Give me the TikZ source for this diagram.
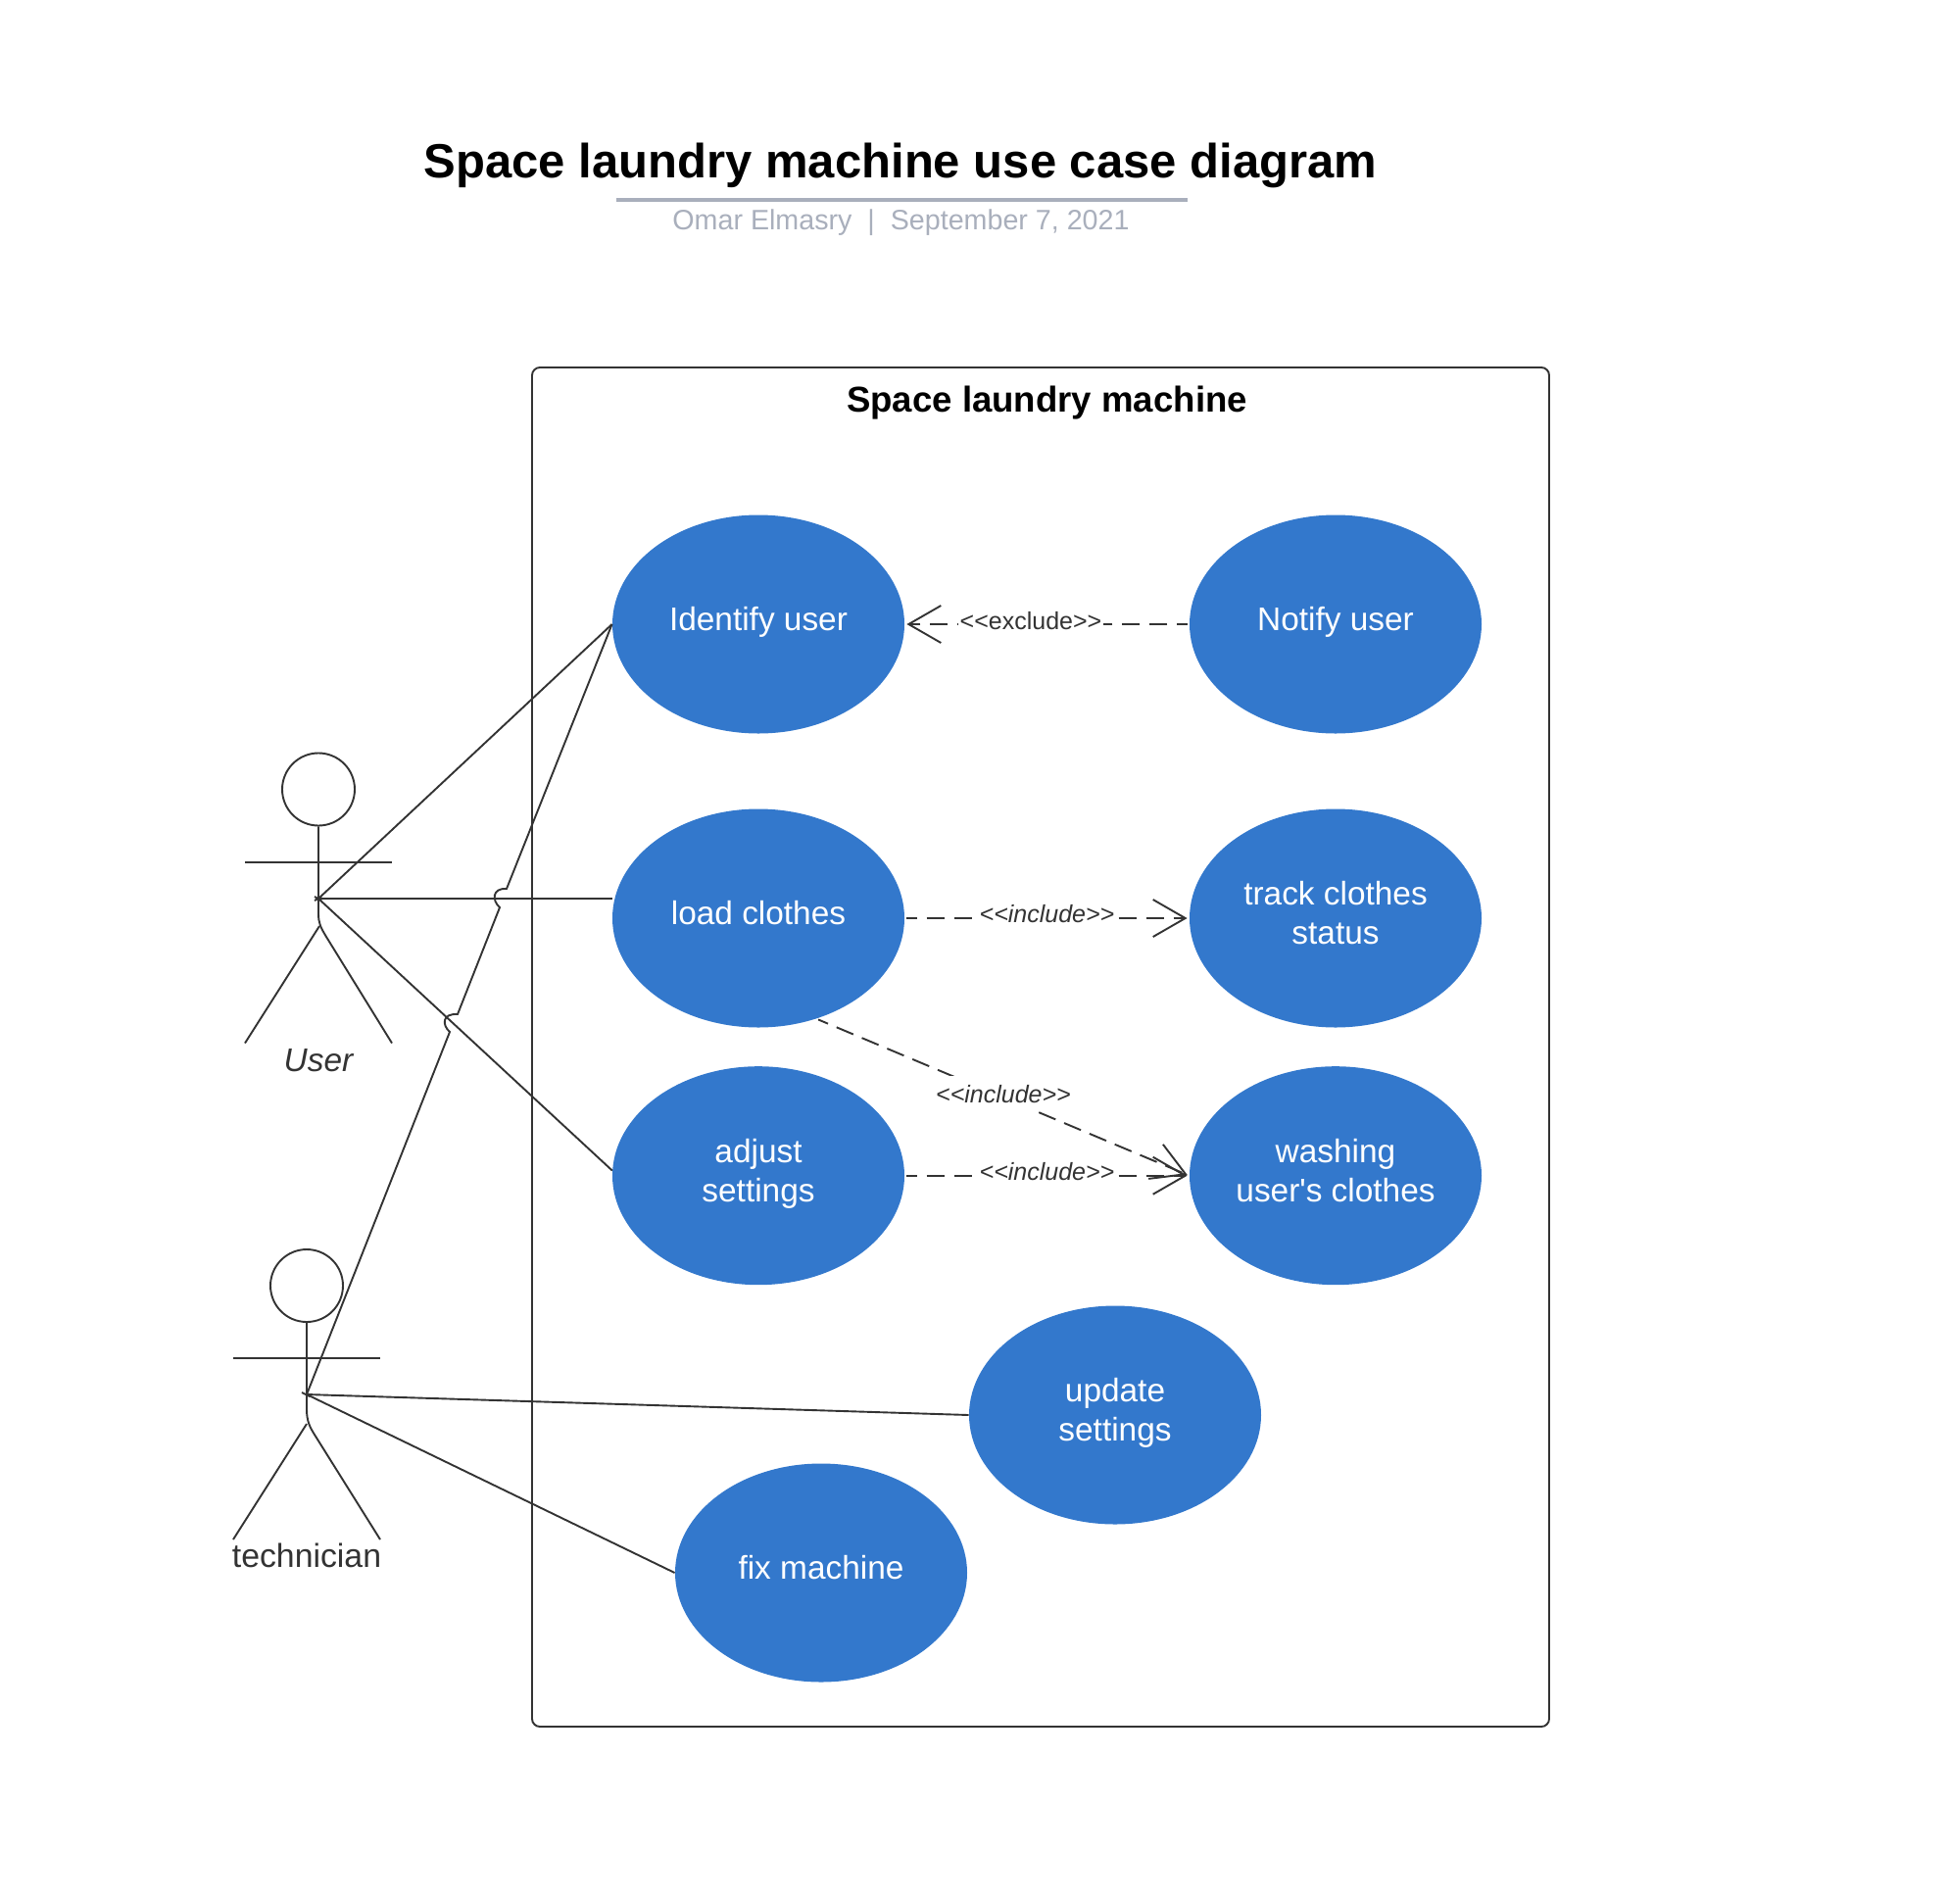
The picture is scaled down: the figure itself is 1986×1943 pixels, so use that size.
\documentclass[tikz,border=0pt]{standalone}
\usepackage{fontspec}
\setmainfont{Liberation Sans}[Ligatures=TeXOff]
\usetikzlibrary{arrows.meta,shapes.geometric}
\definecolor{ink}{HTML}{333333}
\definecolor{ucblue}{HTML}{3378CC}
\definecolor{subgrey}{HTML}{A9AFBC}
\newcommand{\uclines}[1]{\raisebox{0pt}[\height][\dimexpr\depth+1.4pt\relax]{\begin{tabular}{@{}c@{}}#1\end{tabular}}}
\tikzset{
  usecase/.style={ellipse,fill=ucblue,text=white,minimum width=149pt,minimum height=111.5pt,inner sep=0pt,
    font=\fontsize{16.7}{20}\selectfont},
  assoc/.style={draw=ink,line width=0.95pt},
  dep/.style={draw=ink,line width=0.95pt,dash pattern=on 9.25pt off 4.75pt,dash phase=3.9pt,
    -{Straight Barb[length=16.5pt,width=19pt,line width=0.95pt]},shorten >=1pt,shorten <=1pt},
  deplabel/.style={fill=white,text=ink,inner xsep=1pt,inner ysep=1pt,anchor=base,font=\fontsize{12.5}{15}\selectfont},
  actorhead/.style={circle,draw=ink,line width=0.95pt,minimum size=37pt,inner sep=0pt},
  actorlabel/.style={text=ink,anchor=base,inner sep=0pt,font=\fontsize{16.9}{20}\selectfont},
}
\begin{document}
\begin{tikzpicture}[x=0.5pt,y=-0.5pt]
\useasboundingbox (0,0) rectangle (1986,1943);
% title block
\node[anchor=base,inner sep=0pt,font=\fontsize{24.5}{29}\selectfont\bfseries] (title) at (919,181) {Space laundry machine use case diagram};
\draw[subgrey,line width=2pt] (629,204) -- (1212,204);
\node[anchor=base,inner sep=0pt,text=subgrey,font=\fontsize{14.33}{17}\selectfont] (subtitle) at (919.5,234) {Omar Elmasry\ \ |\ \ September 7, 2021};
% system boundary
\draw[draw=ink,line width=0.95pt,rounded corners=4pt] (543,375) rectangle (1581,1762);
\node[anchor=base,inner sep=0pt,font=\fontsize{18.3}{22}\selectfont\bfseries] (system) at (1068.5,420) {Space laundry machine};
% use cases
\node[usecase] (identify) at (774,637) {\uclines{Identify user}};
\node[usecase] (notify) at (1363,637) {\uclines{Notify user}};
\node[usecase] (load) at (774,937) {\uclines{load clothes}};
\node[usecase] (track) at (1363,937) {\uclines{track clothes\\status}};
\node[usecase] (adjust) at (774,1199.7) {\uclines{adjust\\settings}};
\node[usecase] (washing) at (1363,1199.7) {\uclines{washing\\user's clothes}};
\node[usecase] (update) at (1138,1444) {\uclines{update\\settings}};
\node[usecase] (fix) at (838,1605) {\uclines{fix machine}};
% actor: User
\node[actorhead] (userhead) at (325,805.5) {};
\coordinate (userhub) at (325,917);
\coordinate (userfoot1) at (250,1064.5);
\coordinate (userfoot2) at (400,1064.5);
\coordinate (userhip) at (326,945);
\draw[assoc] (250,880) -- (400,880);
\draw[assoc] (userhead.south) -- (325,932) .. controls (325,942) and (327,946) .. (333,956) -- (userfoot2);
\draw[assoc] (userhip) -- (userfoot1);
\draw[assoc] (321,915) -- (328,919) (321,919) -- (328,915);
\node[actorlabel,font=\fontsize{16.7}{20}\selectfont\itshape] (userlabel) at (325,1093) {User};
% actor: technician
\node[actorhead] (techhead) at (313,1312) {};
\coordinate (techhub) at (313,1423);
\coordinate (techfoot1) at (238,1571);
\coordinate (techfoot2) at (388,1571);
\coordinate (techhip) at (313,1453);
\draw[assoc] (238,1386) -- (388,1386);
\draw[assoc] (techhead.south) -- (313,1438) .. controls (313,1450) and (316,1456) .. (321,1464) -- (techfoot2);
\draw[assoc] (techhip) -- (techfoot1);
\draw[assoc] (308,1421) -- (316,1425);
\node[actorlabel] (techlabel) at (313,1599) {technician};
% associations
\draw[assoc] (userhub) -- (identify.west);
\draw[assoc] (userhub) -- (load.west |- userhub);
\draw[assoc] (userhub) -- (adjust.178.6);
\coordinate (jumpAin) at (459,1053);
\coordinate (jumpAout) at (467,1035);
\coordinate (jumpBin) at (510,926);
\coordinate (jumpBout) at (517,907);
\draw[assoc] (techhub) -- (jumpAin) .. controls (451,1046) and (451,1034) .. (jumpAout)
  -- (jumpBin) .. controls (502,919) and (502,906) .. (jumpBout) -- (identify.west);
\draw[assoc] (techhub) -- (update.west);
\draw[assoc] (techhub) -- (fix.west);
% dependencies
\draw[dep] (notify.west) -- (identify.east);
\draw[dep] (load.east) -- (track.west);
\draw[dep] (adjust.east) -- (washing.west);
\draw[dep] (load.-60) -- (washing.west);
\node[deplabel] (lblexclude) at (1052,642) {<<exclude>>};
\node[deplabel] (lblinclude1) at (1068.5,941.5) {\itshape <<include>>};
\node[deplabel,inner ysep=4.5pt] (lblinclude2) at (1024,1125) {\itshape <<include>>};
\node[deplabel] (lblinclude3) at (1068.5,1204.5) {\itshape <<include>>};
\end{tikzpicture}
\end{document}
